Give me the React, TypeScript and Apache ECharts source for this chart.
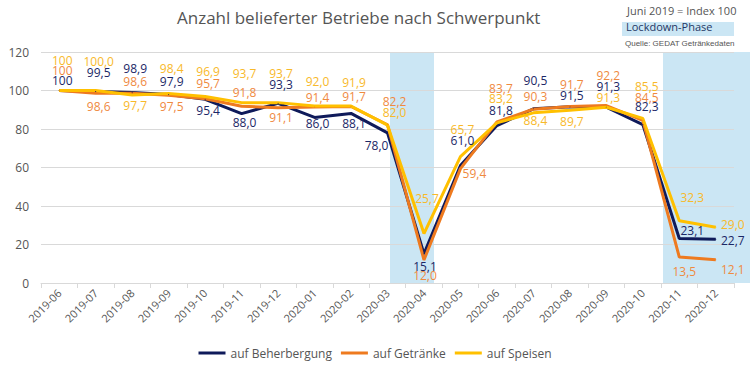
import React, { useEffect, useRef } from "react";
import * as echarts from "echarts";

const months = [
  "2019-06", "2019-07", "2019-08", "2019-09", "2019-10", "2019-11", "2019-12",
  "2020-01", "2020-02", "2020-03", "2020-04", "2020-05", "2020-06", "2020-07",
  "2020-08", "2020-09", "2020-10", "2020-11", "2020-12",
];

const beherbergung = [100, 99.5, 98.9, 97.9, 95.4, 88.0, 93.3, 86.0, 88.1, 78.0, 15.1, 61.0, 81.8, 90.5, 91.5, 91.3, 82.3, 23.1, 22.7];
const getraenke = [100, 98.6, 98.6, 97.5, 95.7, 91.8, 91.1, 91.4, 91.7, 82.2, 12.0, 59.4, 83.7, 90.3, 91.7, 92.2, 84.5, 13.5, 12.1];
const speisen = [100, 100.0, 97.7, 98.4, 96.9, 93.7, 93.7, 92.0, 91.9, 82.0, 25.7, 65.7, 83.2, 88.4, 89.7, 91.3, 85.5, 32.3, 29.0];

const yTicks = { min: 0, max: 120, interval: 20 };

// label offsets [dx, dy] relative to each point (layout only)
const offB: number[][] = [[3, -10], [3, -19], [3, -24], [3, -13], [3, 11], [3, 9], [3, -19], [3, 6], [3, 10], [-11, 13], [1, 13], [2, -25], [4, -15], [2, -28], [2, -11], [2, -21], [4, -18], [13, -8], [17, 1]];
const offG: number[][] = [[3, -20], [3, 13], [3, -12], [3, 11], [3, -15], [3, -14], [3, 10], [3, -10], [3, -10], [7, -23], [1, 16], [14, 5], [4, -33], [2, -13], [2, -22], [2, -30], [4, -23], [5, 14], [17, 10]];
const offS: number[][] = [[3, -30], [3, -29], [3, 11], [3, -25], [3, -25], [3, -29], [3, -29], [3, -24], [3, -24], [7, -13], [3, -35], [2, -27], [4, -24], [2, 8], [2, 11], [2, -10], [4, -32], [13, -23], [17, -3]];

const COLORS = {
  navy: "#0f1a5a",
  orange: "#ee7a1f",
  yellow: "#ffc000",
  navyLbl: "#1b2766",
  orangeLbl: "#ef8a3f",
  yellowLbl: "#f8b92a",
};

const fmt = (p: any) =>
  p.dataIndex === 0 ? "100" : Number(p.value).toFixed(1).replace(".", ",");

function makeSeries(name: string, values: number[], offs: number[][], color: string, lblColor: string) {
  return {
    name,
    type: "line",
    data: values.map((v, i) => ({ value: v, label: { offset: offs[i] } })),
    symbol: "circle",
    symbolSize: 1,
    showSymbol: true,
    itemStyle: { color },
    lineStyle: { color, width: 3 },
    label: {
      show: true,
      position: "inside",
      formatter: fmt,
      color: lblColor,
      fontSize: 12,
      lineHeight: 10,
      fontFamily: "Open Sans",
    },
    emphasis: { disabled: true },
  };
}

export default function App() {
  const ref = useRef<HTMLDivElement>(null);
  useEffect(() => {
    if (!ref.current) return;
    document.body.style.margin = "0";
    const chart = echarts.init(ref.current, null, { renderer: "svg" });
    chart.setOption({
      animation: false,
      backgroundColor: "#ffffff",
      textStyle: { fontFamily: "Open Sans" },
      grid: { left: 41, right: 16, top: 52, bottom: 92, containLabel: false },
      graphic: [
        { type: "rect", z: -10, shape: { x: 390, y: 52, width: 44, height: 231 }, style: { fill: "#cbe6f4" } },
        { type: "rect", z: -10, shape: { x: 663, y: 52, width: 87, height: 231 }, style: { fill: "#cbe6f4" } },
        { type: "text", left: 177, top: 9, style: { text: "Anzahl belieferter Betriebe nach Schwerpunkt", fontSize: 17, fill: "#555555", fontFamily: "Open Sans" } },
        { type: "text", left: 627, top: 5, style: { text: "Juni 2019 = Index 100", fontSize: 11, fill: "#555555", fontFamily: "Open Sans" } },
        { type: "rect", shape: { x: 622, y: 22, width: 112, height: 14 }, style: { fill: "#cbe6f4" } },
        { type: "text", left: 626, top: 21, style: { text: "Lockdown-Phase", fontSize: 11, fill: "#1f3864", fontFamily: "Open Sans" } },
        { type: "text", left: 625, top: 39, style: { text: "Quelle: GEDAT Getränkedaten", fontSize: 8, fill: "#555555", fontFamily: "Liberation Sans" } },
      ],
      legend: {
        bottom: 11,
        left: "center",
        icon: "rect",
        itemWidth: 27,
        itemHeight: 3,
        itemGap: 9,
        textStyle: { color: "#555555", fontSize: 12, fontFamily: "Open Sans" },
        data: ["auf Beherbergung", "auf Getränke", "auf Speisen"],
      },
      xAxis: {
        type: "category",
        data: months,
        boundaryGap: true,
        axisLine: { lineStyle: { color: "#d9d9d9" } },
        axisTick: { show: true, lineStyle: { color: "#d9d9d9" } },
        axisLabel: { rotate: 45, color: "#555555", fontSize: 11, interval: 0, margin: 8 },
      },
      yAxis: {
        type: "value",
        min: yTicks.min,
        max: yTicks.max,
        interval: yTicks.interval,
        axisLine: { show: false },
        axisTick: { show: false },
        axisLabel: { color: "#555555", fontSize: 12, margin: 12 },
        splitLine: { lineStyle: { color: "#d9d9d9" } },
      },
      series: [
        makeSeries("auf Beherbergung", beherbergung, offB, COLORS.navy, COLORS.navyLbl),
        makeSeries("auf Getränke", getraenke, offG, COLORS.orange, COLORS.orangeLbl),
        makeSeries("auf Speisen", speisen, offS, COLORS.yellow, COLORS.yellowLbl),
      ],
    });
    return () => chart.dispose();
  }, []);
  return <div ref={ref} style={{ width: 750, height: 375 }} />;
}
